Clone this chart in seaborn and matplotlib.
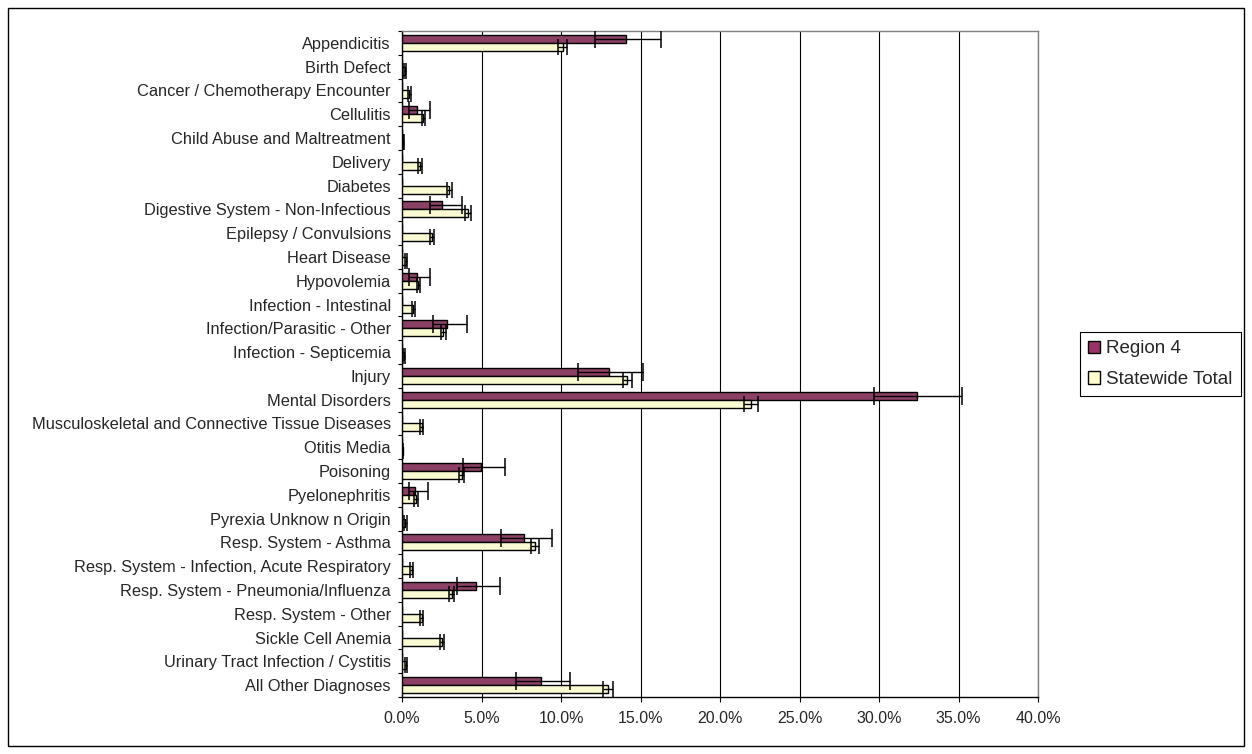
import numpy as np
import pandas as pd
import matplotlib
matplotlib.use("Agg")
import matplotlib.pyplot as plt
from matplotlib.patches import Rectangle, Patch
from matplotlib.ticker import PercentFormatter, FixedLocator
import seaborn as sns

categories = [
    "Appendicitis", "Birth Defect", "Cancer / Chemotherapy Encounter", "Cellulitis",
    "Child Abuse and Maltreatment", "Delivery", "Diabetes",
    "Digestive System - Non-Infectious", "Epilepsy / Convulsions", "Heart Disease",
    "Hypovolemia", "Infection - Intestinal", "Infection/Parasitic - Other",
    "Infection - Septicemia", "Injury", "Mental Disorders",
    "Musculoskeletal and Connective Tissue Diseases", "Otitis Media", "Poisoning",
    "Pyelonephritis", "Pyrexia Unknow n Origin", "Resp. System - Asthma",
    "Resp. System - Infection, Acute Respiratory", "Resp. System - Pneumonia/Influenza",
    "Resp. System - Other", "Sickle Cell Anemia", "Urinary Tract Infection / Cystitis",
    "All Other Diagnoses",
]
series_names = ["Region 4", "Statewide Total"]

region = [14.1, 0, 0, 0.92, 0, 0, 0, 2.53, 0, 0, 0.92, 0, 2.84, 0, 13.0, 32.4,
          0, 0, 4.96, 0.82, 0, 7.66, 0, 4.65, 0, 0, 0, 8.77]
region_err_low = [1.96, 0, 0, 0.46, 0, 0, 0, 0.77, 0, 0, 0.46, 0, 0.87, 0, 1.9, 2.72,
                  0, 0, 1.11, 0.38, 0, 1.46, 0, 1.17, 0, 0, 0, 1.63]
region_err_high = [2.18, 0, 0, 0.84, 0, 0, 0, 1.22, 0, 0, 0.84, 0, 1.22, 0, 2.18, 2.83,
                   0, 0, 1.53, 0.83, 0, 1.76, 0, 1.51, 0, 0, 0, 1.82]

statewide = [10.1, 0.2, 0.45, 1.35, 0.08, 1.13, 2.97, 4.16, 1.86, 0.25, 1.02, 0.71, 2.6,
             0.15, 14.17, 21.95, 1.25, 0.05, 3.75, 0.88, 0.22, 8.35, 0.6, 3.12, 1.24,
             2.52, 0.25, 12.95]
statewide_err = [0.3, 0.08, 0.1, 0.12, 0.04, 0.1, 0.15, 0.2, 0.13, 0.08, 0.1, 0.1, 0.15,
                 0.06, 0.3, 0.45, 0.1, 0.03, 0.18, 0.1, 0.07, 0.25, 0.08, 0.15, 0.1,
                 0.15, 0.07, 0.3]

x_ticks = [0, 5, 10, 15, 20, 25, 30, 35, 40]
colors = ["#993366", "#FFFFCC"]

sns.set_style("white")
plt.rcParams["font.family"] = ["Liberation Sans", "DejaVu Sans"]

df = pd.DataFrame({
    "category": categories * 2,
    "series": [series_names[0]] * len(categories) + [series_names[1]] * len(categories),
    "value": region + statewide,
})

W, H = 1252, 754
fig = plt.figure(figsize=(W / 100, H / 100), dpi=100)
left, right, top, bottom = 402, 1038, 31, 697
ax = fig.add_axes([left / W, (H - bottom) / H, (right - left) / W, (bottom - top) / H])

sns.barplot(data=df, y="category", x="value", hue="series", orient="h",
            palette=colors, width=0.67, edgecolor="black", linewidth=1.0,
            errorbar=None, legend=False, ax=ax, zorder=3)

errs = [(region_err_low, region_err_high, 6.5), (statewide_err, statewide_err, 5.5)]
for cont, (lo, hi, cs) in zip(ax.containers, errs):
    xs, ys, elo, ehi = [], [], [], []
    for bar, l, h in zip(cont, lo, hi):
        if bar.get_width() > 0 and (l > 0 or h > 0):
            xs.append(bar.get_width())
            ys.append(bar.get_y() + bar.get_height() / 2)
            elo.append(l)
            ehi.append(h)
    ax.errorbar(xs, ys, xerr=[elo, ehi], fmt="none", ecolor="black",
                elinewidth=1.0, capsize=cs, capthick=1.1, zorder=4)

ax.set_xlim(0, 40)
ax.xaxis.set_major_locator(FixedLocator(x_ticks))
ax.xaxis.set_major_formatter(PercentFormatter(100, decimals=1))
ax.set_ylim(len(categories) - 0.5, -0.5)
ax.set_xlabel("")
ax.set_ylabel("")

ax.grid(axis="x", color="black", linewidth=0.8, zorder=0)
ax.grid(axis="y", visible=False)
ax.set_axisbelow(True)

for s in ["top", "right"]:
    ax.spines[s].set_visible(True)
    ax.spines[s].set_color("#808080")
    ax.spines[s].set_linewidth(1.0)
for s in ["left", "bottom"]:
    ax.spines[s].set_color("black")
    ax.spines[s].set_linewidth(1.0)

ax.yaxis.set_minor_locator(FixedLocator(np.arange(-0.5, len(categories), 1.0)))
ax.tick_params(axis="y", which="major", length=0, pad=8, labelsize=11.75)
ax.tick_params(axis="y", which="minor", length=3, width=0.8, direction="out", color="black", left=True)
ax.tick_params(axis="x", which="major", length=3.6, width=0.8, direction="out", color="black",
               bottom=True, pad=6.5, labelsize=11.5)

handles = [Patch(facecolor=c, edgecolor="black", linewidth=1.0) for c in colors]
leg = ax.legend(handles, series_names, loc="upper left",
                bbox_to_anchor=(1080 / W, 1 - 332 / H), bbox_transform=fig.transFigure,
                frameon=True, fancybox=False, framealpha=1, edgecolor="black",
                fontsize=13.5, handlelength=0.64, handleheight=0.64, handletextpad=0.3,
                labelspacing=0.72, borderpad=0.45, borderaxespad=0)
leg.get_frame().set_linewidth(0.8)

fig.patches.append(Rectangle((8 / W, 8 / H), (1244 - 8) / W, (746 - 8) / H,
                             transform=fig.transFigure, fill=False,
                             edgecolor="black", linewidth=1.0))

fig.savefig("out.png", dpi=100)
